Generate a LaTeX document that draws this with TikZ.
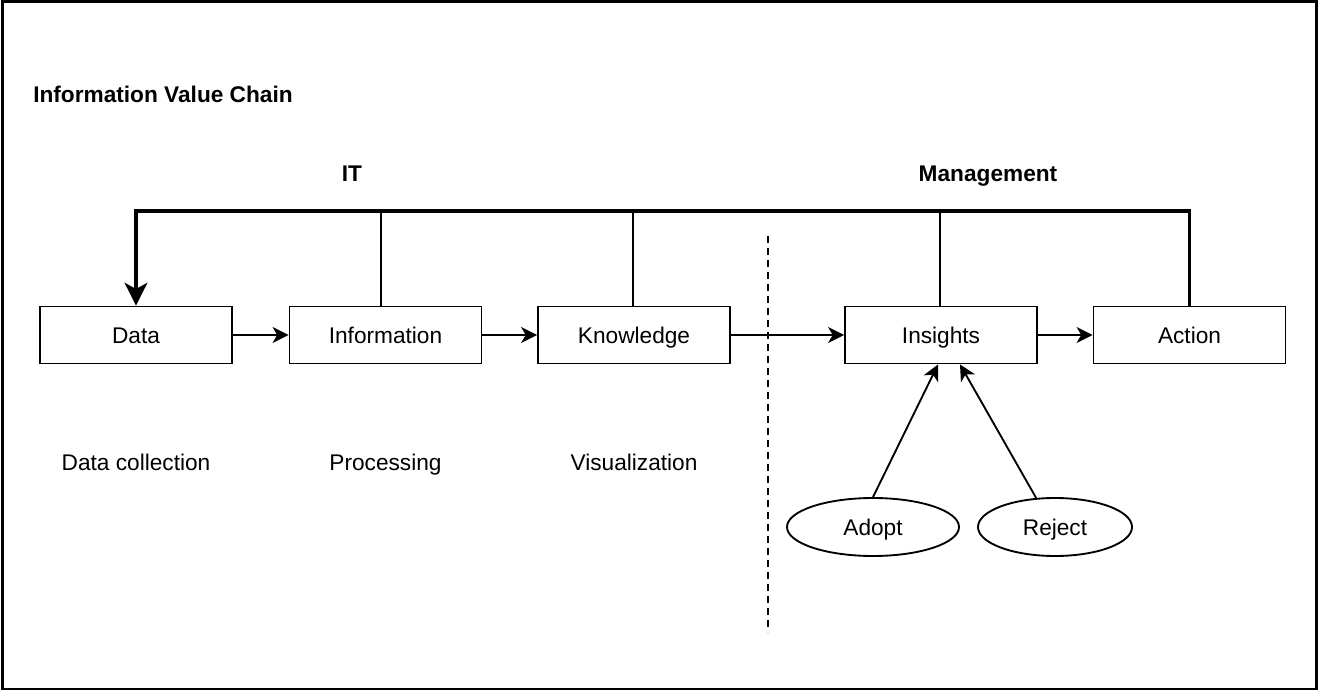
\documentclass[tikz,border=0pt]{standalone}
\usepackage{fontspec}
\setmainfont{Liberation Sans}
\usetikzlibrary{arrows.meta,shapes.geometric,calc}
\tikzset{
  stagebox/.style={draw, line width=1.4pt, minimum width=144pt, minimum height=42.75pt,
    inner sep=0pt, text height=12.2pt, text depth=0pt},
  choice/.style={draw, ellipse, line width=1.4pt, minimum height=43.5pt, inner sep=0pt,
    text height=12.2pt, text depth=0pt},
  flow/.style={line width=1.4pt, -{Stealth[length=12pt, width=12pt, inset=3.5pt]}},
  tie/.style={line width=1.4pt},
  loop/.style={line width=2.6pt, -{Stealth[length=17pt, width=17pt, inset=4.5pt]}},
  label/.style={inner sep=0pt, anchor=base},
  heading/.style={inner sep=0pt, anchor=base, font=\fontsize{17}{20}\selectfont\bfseries},
}
\begin{document}
\begin{tikzpicture}[x=0.75pt, y=-0.75pt, font=\fontsize{17}{20}\selectfont]
\useasboundingbox (0,0) rectangle (1319,691);
\fill[white] (0,0) rectangle (1319,691);
\draw[line width=1.6pt] (2.5,1.5) rectangle (1316.5,689);

% headings
\node[heading, anchor=base west] (title) at (33,103) {Information Value Chain};
\node[heading] (it) at (352,182) {IT};
\node[heading] (mgmt) at (988,182) {Management};

% stages of the chain
\node[stagebox] (data) at (136,335) {Data};
\node[stagebox] (info) at (385.5,335) {Information};
\node[stagebox] (know) at (634,335) {Knowledge};
\node[stagebox] (ins)  at (941,335) {Insights};
\node[stagebox] (act)  at (1189.5,335) {Action};

% activities under the IT stages
\node[label] (coll) at (136,470) {Data collection};
\node[label] (proc) at (385.5,470) {Processing};
\node[label] (vis)  at (634,470) {Visualization};

% decisions feeding the insights
\node[choice, minimum width=129pt] (adopt) at (873,527) {Adopt};
\node[choice, minimum width=115.5pt] (reject) at (1055,527) {Reject};

% IT / management divider
\coordinate (divtop) at (768,236);
\coordinate (divbot) at (768,632);
\draw[line width=1.4pt, dash pattern=on 5.5pt off 3.5pt] (divtop) -- (divbot);

% feedback bus from action back to data
\coordinate (bact) at (act.north |- 0,211);
\coordinate (bdata) at (data.north |- 0,211);
\coordinate (binfo) at (381,211);
\coordinate (bknow) at (633,211);
\coordinate (bins) at (940,211);
\draw[tie] (binfo) -- (binfo |- info.north);
\draw[tie] (bknow) -- (bknow |- know.north);
\draw[tie] (bins) -- (bins |- ins.north);
\draw[loop, line join=miter] (act.north) -- (bact) -- (bdata) -- (data.north);

% main flow
\draw[flow] (data) -- (info);
\draw[flow] (info) -- (know);
\draw[flow] (know) -- (ins);
\draw[flow] (ins) -- (act);

% decisions
\draw[flow] (adopt.north) -- ($(ins.south)+(-3,0)$);
\draw[flow] (reject.123) -- ($(ins.south)+(19,0)$);
\end{tikzpicture}
\end{document}
